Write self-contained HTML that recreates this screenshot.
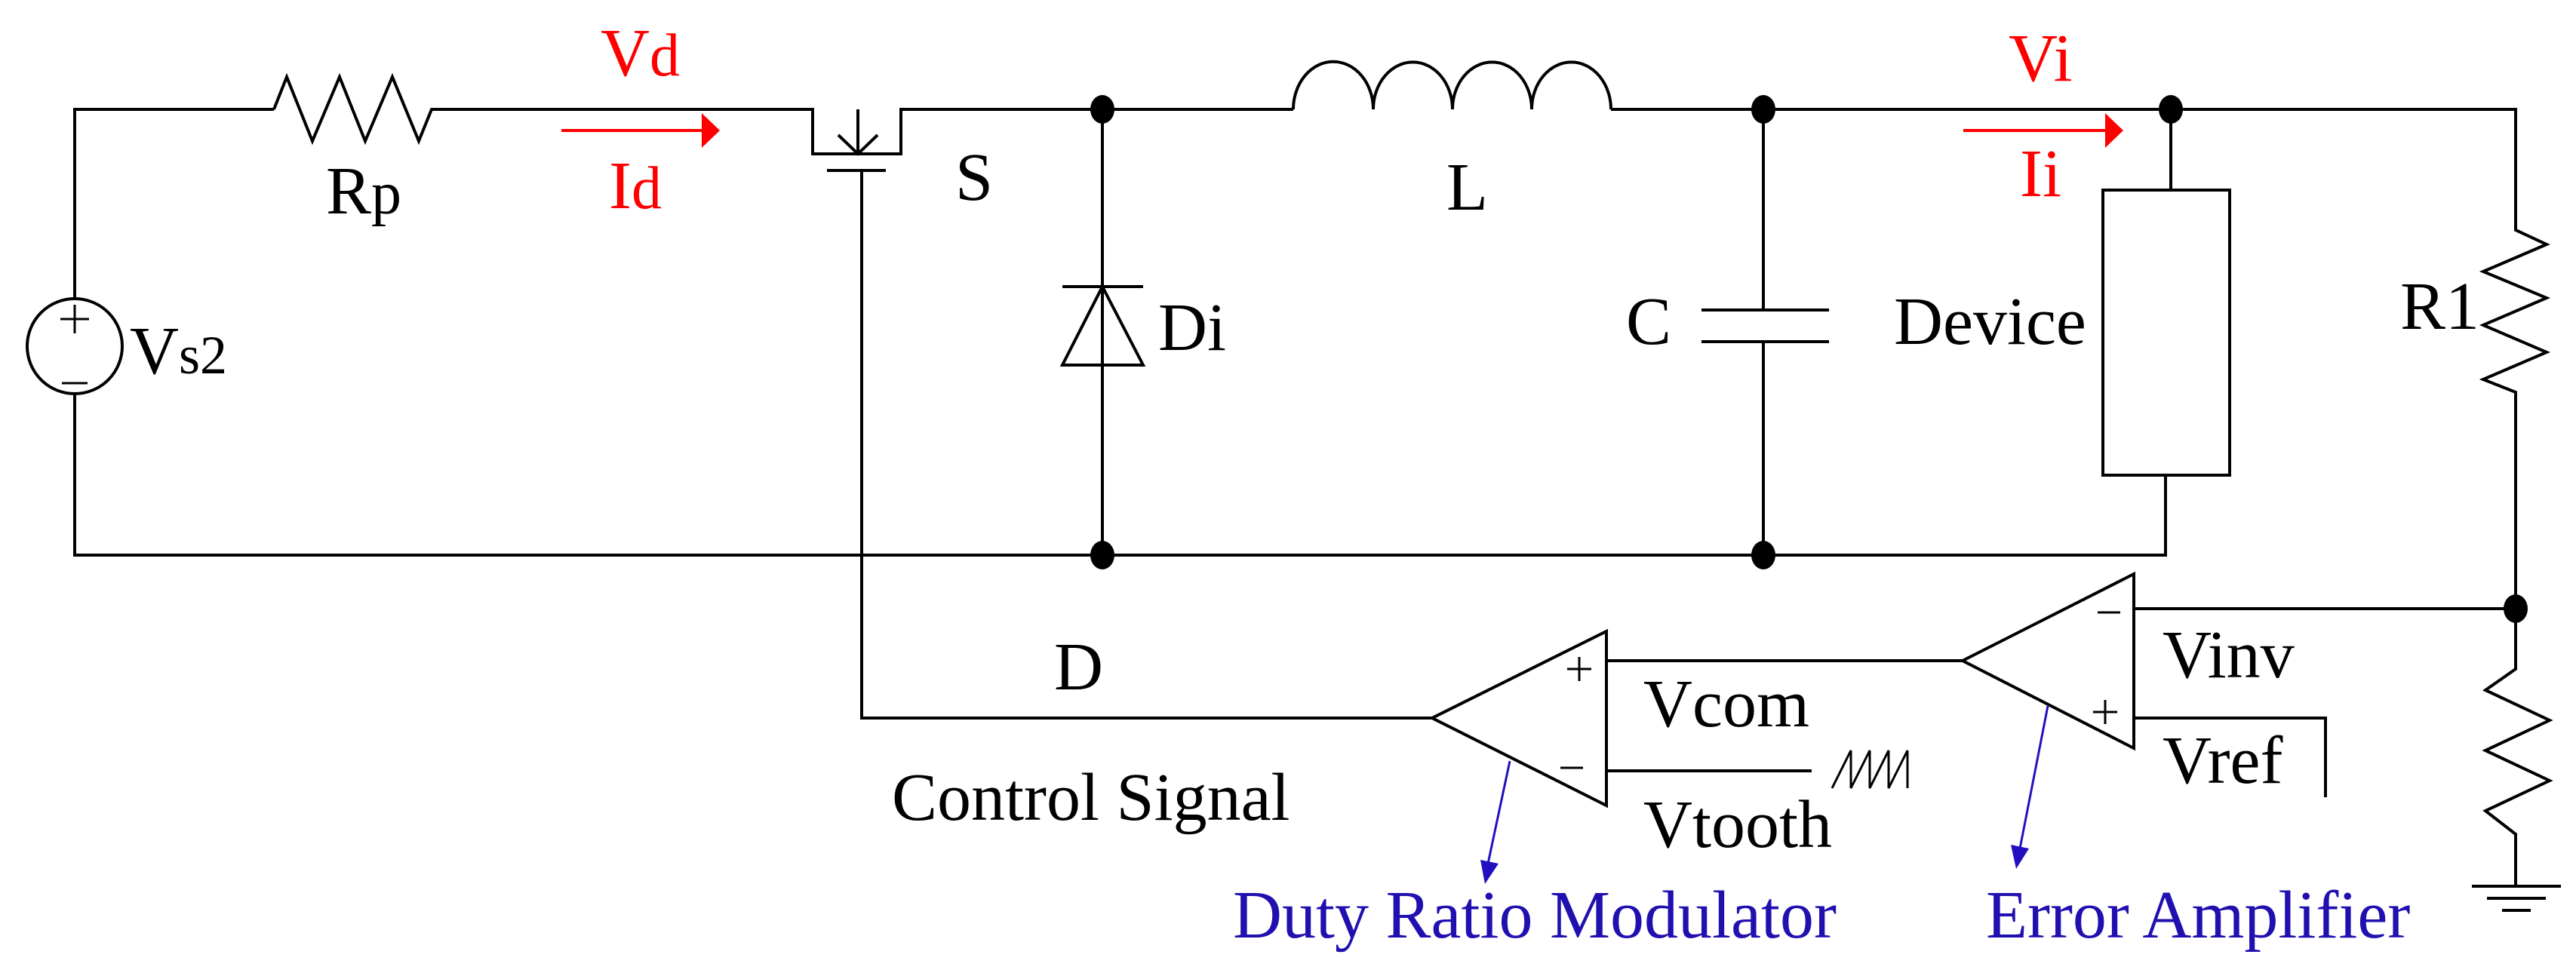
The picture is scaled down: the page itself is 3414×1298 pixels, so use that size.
<!DOCTYPE html>
<html><head><style>html,body{margin:0;padding:0;background:#fff}svg{display:block}text{font-family:"Liberation Serif",serif;font-size:90px}</style></head>
<body>
<svg width="3414" height="1298" viewBox="0 0 3414 1298" xmlns="http://www.w3.org/2000/svg">
<g fill="none" stroke="#000" stroke-width="4">
<polyline points="363,145 99,145 99,395"/>
<circle cx="99" cy="459" r="63"/>
<polyline points="99,523 99,736 2870,736 2870,630"/>
<polyline points="363,145 380,102 414,187 450,102 484,187 520,102 555,187 572,145 1077,145 1077,204 1194,204 1194,145 1714,145"/>
<line x1="1137" y1="145" x2="1137" y2="204"/>
<polyline points="1111,179 1137,204 1163,179"/>
<line x1="1096" y1="226" x2="1174" y2="226"/>
<polyline points="1142,226 1142,952 1898,952"/>
<path d="M1714,145 A52,62 0 0 1 1820,145 A52,62 0 0 1 1925,145 A52,62 0 0 1 2030,145 A52,62 0 0 1 2135,145"/>
<polyline points="2135,145 3334,145 3334,305 3375,324 3291,360 3375,395 3291,431 3375,467 3291,503 3334,520 3334,887 3294,915 3379,955 3294,995 3379,1035 3294,1075 3334,1106 3334,1175"/>
<line x1="1461" y1="145" x2="1461" y2="736"/>
<line x1="1408" y1="380" x2="1515" y2="380"/>
<polygon points="1461,380 1408,484 1515,484"/>
<line x1="2337" y1="145" x2="2337" y2="411"/>
<line x1="2337" y1="453" x2="2337" y2="736"/>
<line x1="2255" y1="411" x2="2424" y2="411"/>
<line x1="2255" y1="453" x2="2424" y2="453"/>
<line x1="2877" y1="145" x2="2877" y2="252"/>
<rect x="2787" y="252" width="168" height="378"/>
<polygon points="2828,761 2828,992 2601,876"/>
<line x1="2828" y1="807" x2="3334" y2="807"/>
<polyline points="2828,952 3082,952 3082,1057"/>
<line x1="2601" y1="876" x2="2129" y2="876"/>
<polygon points="2129,837 2129,1068 1898,952"/>
<line x1="2129" y1="1022" x2="2401" y2="1022"/>
<polyline points="2428,1045 2453,995 2453,1045 2478,995 2478,1045 2503,995 2503,1045 2528,995 2528,1045" stroke-width="3"/>
<line x1="3276" y1="1175" x2="3394" y2="1175"/>
<line x1="3296" y1="1191" x2="3374" y2="1191"/>
<line x1="3316" y1="1207" x2="3354" y2="1207"/>
</g>
<g stroke="#000" stroke-width="3" fill="none">
<line x1="80" y1="423" x2="118" y2="423"/><line x1="99" y1="404" x2="99" y2="442"/>
<line x1="82" y1="508" x2="116" y2="508"/>
<line x1="2780" y1="812" x2="2810" y2="812"/>
<line x1="2774" y1="944" x2="2806" y2="944"/><line x1="2790" y1="928" x2="2790" y2="960"/>
<line x1="2077" y1="887" x2="2109" y2="887"/><line x1="2093" y1="871" x2="2093" y2="903"/>
<line x1="2068" y1="1018" x2="2098" y2="1018"/>
</g>
<g fill="#000">
<ellipse cx="1461" cy="145" rx="16" ry="19"/><ellipse cx="1461" cy="736" rx="16" ry="19"/>
<ellipse cx="2337" cy="145" rx="16" ry="19"/><ellipse cx="2337" cy="736" rx="16" ry="19"/>
<ellipse cx="2877" cy="145" rx="16" ry="19"/><ellipse cx="3334" cy="807" rx="16" ry="19"/>
</g>
<g stroke="#f00" stroke-width="4" fill="#f00">
<line x1="744" y1="173" x2="935" y2="173"/><polygon points="930,150 954,173 930,196" stroke="none"/>
<line x1="2602" y1="173" x2="2795" y2="173"/><polygon points="2790,150 2814,173 2790,196" stroke="none"/>
</g>
<g stroke="#2010c0" stroke-width="3" fill="#2010c0">
<line x1="2001" y1="1009" x2="1972" y2="1145"/><polygon points="1962,1140 1986,1145 1968,1172" stroke="none"/>
<line x1="2714" y1="936" x2="2677" y2="1125"/><polygon points="2665,1120 2689,1125 2672,1152" stroke="none"/>
</g>
<g fill="#000">
<text x="172" y="495">V<tspan font-size="72">s2</tspan></text>
<text x="432" y="283">R<tspan font-size="80">p</tspan></text>
<text x="1266" y="265">S</text>
<text x="1535" y="464">Di</text>
<text x="1917" y="278">L</text>
<text x="2155" y="456">C</text>
<text x="2510" y="456">Device</text>
<text x="3181" y="436">R1</text>
<text x="2866" y="898">Vinv</text>
<text x="2866" y="1038">Vref</text>
<text x="2178" y="963">Vcom</text>
<text x="2178" y="1123">Vtooth</text>
<text x="1397" y="914">D</text>
<text x="1182" y="1087">Control Signal</text>
</g>
<g fill="#f00">
<text x="796" y="100">V<tspan font-size="80">d</tspan></text>
<text x="807" y="276">I<tspan font-size="80">d</tspan></text>
<text x="2662" y="107">Vi</text>
<text x="2677" y="260">Ii</text>
</g>
<g fill="#2010b0" style="font-size:95px">
<text x="1634" y="1243">Duty Ratio Modulator</text>
<text x="2632" y="1243">Error Amplifier</text>
</g>
</svg>
</body></html>
